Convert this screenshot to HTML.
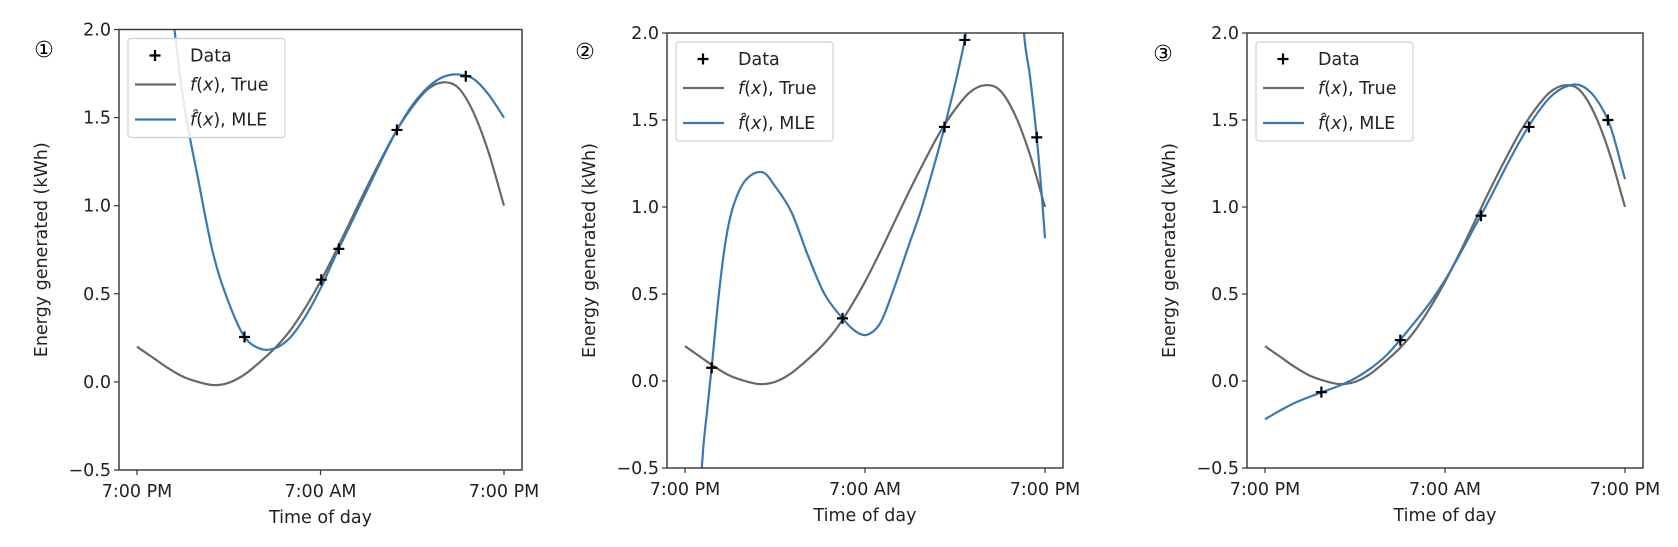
<!DOCTYPE html>
<html><head><meta charset="utf-8"><style>
html,body{margin:0;padding:0;background:#fff;overflow:hidden;width:1678px;height:547px;}
svg{display:block;font-family:"DejaVu Sans","Liberation Sans",sans-serif;}
</style></head><body>
<svg id="fig" width="1678" height="547" viewBox="0 0 1678 547" xmlns="http://www.w3.org/2000/svg"></svg>
<script>
// ---- data (hours after 7:00 PM, energy in kWh) ----
const yTicks = [-0.5, 0.0, 0.5, 1.0, 1.5, 2.0];
const xTickHours = [0, 12, 24];
const xTickLabels = ["7:00 PM", "7:00 AM", "7:00 PM"];
const trueHours = [0,1,2,3,4,5,6,7,8,9,10,11,12,13,14,15,16,17,18,19,20,21,22,23,24];
const trueVals = [0.2,0.14,0.08,0.03,0.0,-0.018,-0.005,0.04,0.11,0.19,0.29,0.42,0.57,0.74,0.92,1.1,1.27,1.43,1.56,1.66,1.70,1.67,1.53,1.3,1.0];

const p1DataX = [7.03, 12.05, 13.2, 17.0, 21.5];
const p1DataY = [0.255, 0.58, 0.755, 1.43, 1.735];
const p1MleHours = [1,2,3,4,5,6,7,8,9,10,11,12,13,14,15,16,17,18,19,20,21,22,23,24];
const p1MleVals = [3.2,2.35,1.62,1.15,0.72,0.45,0.26,0.19,0.19,0.25,0.37,0.53,0.72,0.9,1.08,1.26,1.43,1.57,1.67,1.73,1.745,1.72,1.63,1.5];

const p2DataX = [1.78, 10.5, 17.3, 18.65, 23.45];
const p2DataY = [0.076, 0.36, 1.46, 1.96, 1.40];
const p2MleHours = [0.8,1.12,1.5,1.78,2.26,2.7,3.2,4,5.16,6,7.1,8.2,9.3,10.5,11.3,12.1,13,13.8,15,15.8,17.3,18.65,19.2,20.5,21.5,22.2,22.6,23,23.45,23.8,24];
const p2MleVals = [-1.2,-0.5,-0.15,0.08,0.5,0.8,1.0,1.15,1.2,1.12,0.97,0.72,0.5,0.36,0.29,0.265,0.33,0.5,0.8,1.0,1.46,1.96,2.3,3.5,3.6,2.6,2.0,1.75,1.40,1.05,0.82];

const p3DataX = [3.76, 9.02, 14.4, 17.6, 22.86];
const p3DataY = [-0.064, 0.235, 0.95, 1.46, 1.50];
const p3MleHours = [0,1,2,3,4,5,6,7,8,9,10,11,12,13,14,15,16,17,18,19,20,21,22,23,24];
const p3MleVals = [-0.22,-0.17,-0.125,-0.09,-0.058,-0.025,0.015,0.07,0.14,0.235,0.34,0.45,0.58,0.73,0.89,1.05,1.22,1.38,1.52,1.63,1.69,1.70,1.63,1.47,1.16];

const NS = "http://www.w3.org/2000/svg";
const fig = document.getElementById("fig");
function mk(tag, attrs, parent){const e=document.createElementNS(NS,tag);for(const k in attrs)e.setAttribute(k,attrs[k]);(parent||fig).appendChild(e);return e;}
function smoothPath(xs, ys){
  const n=xs.length, m=[];
  for(let i=0;i<n;i++){
    const a=Math.max(i-1,0), b=Math.min(i+1,n-1);
    m.push((ys[b]-ys[a])/(xs[b]-xs[a]));
  }
  let d = "M"+xs[0].toFixed(2)+","+ys[0].toFixed(2);
  for(let i=0;i<n-1;i++){
    const dx=xs[i+1]-xs[i];
    const c1x=xs[i]+dx/3, c1y=ys[i]+m[i]*dx/3, c2x=xs[i+1]-dx/3, c2y=ys[i+1]-m[i+1]*dx/3;
    d+=" C"+c1x.toFixed(2)+","+c1y.toFixed(2)+" "+c2x.toFixed(2)+","+c2y.toFixed(2)+" "+xs[i+1].toFixed(2)+","+ys[i+1].toFixed(2);
  }
  return d;
}
const BLUE="#3b78b0", GRAY="#686868";
const FS="17.5px";
const panels = [
  {id:1,L:119,R:522,T:29.5,B:470,num:"①",numX:44,numY:50,dx:p1DataX,dy:p1DataY,mh:p1MleHours,mv:p1MleVals},
  {id:2,L:667,R:1063,T:33,B:468,num:"②",numX:585,numY:52,dx:p2DataX,dy:p2DataY,mh:p2MleHours,mv:p2MleVals},
  {id:3,L:1247,R:1643,T:33,B:468,num:"③",numX:1163,numY:54,dx:p3DataX,dy:p3DataY,mh:p3MleHours,mv:p3MleVals}
];
panels.forEach(p=>{
  const g = mk("g",{});
  
  
  const x0=p.L+18, x1=p.R-18;
  const sx = h => x0 + (h/24)*(x1-x0);
  const sy = v => p.B - (v-(-0.5))/2.5*(p.B-p.T);
  const clipId="clip"+p.id;
  const cp = mk("clipPath",{id:clipId},g); mk("rect",{x:p.L,y:p.T,width:p.R-p.L,height:p.B-p.T},cp);
  const tc = mk("path",{d:smoothPath(trueHours.map(sx),trueVals.map(sy)),fill:"none",stroke:GRAY,"stroke-width":2.2,"clip-path":"url(#"+clipId+")"},g);
  
  
  const mc = mk("path",{d:smoothPath(p.mh.map(sx),p.mv.map(sy)),fill:"none",stroke:BLUE,"stroke-width":2.2,"clip-path":"url(#"+clipId+")"},g);
  
  
  p.dx.forEach((h,i)=>{
    const cx=sx(h), cy=sy(p.dy[i]);
    const m = mk("path",{d:`M${cx-5.5},${cy}H${cx+5.5}M${cx},${cy-5.5}V${cy+5.5}`,stroke:"#000","stroke-width":2.2,"clip-path":"url(#"+clipId+")"},g);
    
    
  });
  const fr = mk("rect",{x:p.L,y:p.T,width:p.R-p.L,height:p.B-p.T,fill:"none",stroke:"#333","stroke-width":1.4},g);
  
  
  yTicks.forEach(v=>{
    const y=sy(v);
    mk("line",{x1:p.L-5,x2:p.L,y1:y,y2:y,stroke:"#333","stroke-width":1.2},g);
    const t=mk("text",{x:p.L-8,y:y+6,"text-anchor":"end","font-size":FS,fill:"#222"},g);
    t.textContent=(v<0?"\u2212":"")+Math.abs(v).toFixed(1);
    
    
  });
  xTickHours.forEach((h,i)=>{
    const x=sx(h);
    mk("line",{x1:x,x2:x,y1:p.B,y2:p.B+5,stroke:"#333","stroke-width":1.2},g);
    const t=mk("text",{x:x,y:p.B+27,"text-anchor":"middle","font-size":FS,fill:"#222"},g);
    t.textContent=xTickLabels[i];
    
    
  });
  const xl=mk("text",{x:(p.L+p.R)/2,y:p.B+53,"text-anchor":"middle","font-size":FS,fill:"#222"},g);
  xl.textContent="Time of day";
  
  
  const yc=(p.T+p.B)/2, yx=p.L-72;
  const yl=mk("text",{x:yx,y:yc,"text-anchor":"middle","font-size":FS,fill:"#222",transform:`rotate(-90 ${yx} ${yc})`},g);
  yl.textContent="Energy generated (kWh)";
  
  
  const nm=mk("text",{x:p.numX,y:p.numY+7,"text-anchor":"middle","font-size":"22px",fill:"#000"},g);
  nm.textContent=p.num;
  
  
  const lg = mk("g",{},g);
  
  
  const lx=p.L+9, ly=p.T+9;
  mk("rect",{x:lx,y:ly,width:157,height:99,rx:3,fill:"rgba(255,255,255,0.85)",stroke:"#d0d0d0","stroke-width":1.2},lg);
  const r1=ly+17, r2=ly+46, r3=ly+81;
  const mx=lx+27;
  mk("path",{d:`M${mx-5.5},${r1}H${mx+5.5}M${mx},${r1-5.5}V${r1+5.5}`,stroke:"#000","stroke-width":2.2},lg);
  mk("line",{x1:lx+7,x2:lx+48,y1:r2,y2:r2,stroke:GRAY,"stroke-width":2.2},lg);
  mk("line",{x1:lx+7,x2:lx+48,y1:r3,y2:r3,stroke:BLUE,"stroke-width":2.2},lg);
  const e1=mk("text",{x:lx+62,y:r1+6,"font-size":FS,fill:"#222"},lg); e1.textContent="Data";
  
  
  const e2=mk("text",{x:lx+62,y:r2+6,"font-size":FS,fill:"#222"},lg);
  e2.innerHTML='<tspan font-style="italic">f</tspan>(<tspan font-style="italic">x</tspan>), True';
  
  
  const e3=mk("text",{x:lx+62,y:r3+6,"font-size":FS,fill:"#222"},lg);
  e3.innerHTML='<tspan font-style="italic">f\u0302</tspan>(<tspan font-style="italic">x</tspan>), MLE';
  
  
});
</script>
</body></html>
